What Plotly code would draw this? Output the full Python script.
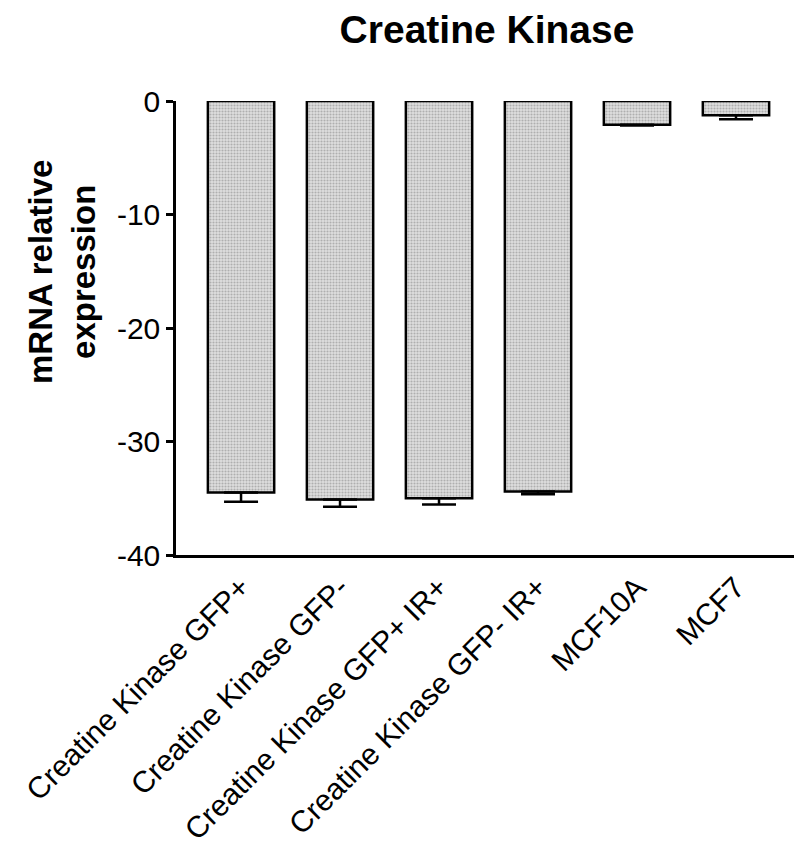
import plotly.graph_objects as go

# Creatine kinase mRNA relative expression per sample
categories = [
    "Creatine Kinase GFP+",
    "Creatine Kinase GFP-",
    "Creatine Kinase GFP+ IR+",
    "Creatine Kinase GFP- IR+",
    "MCF10A",
    "MCF7",
]
means = [-34.5, -35.1, -35.0, -34.4, -2.1, -1.25]
errors = [0.8, 0.65, 0.55, 0.25, 0.05, 0.35]

y_tick_vals = [0, -10, -20, -30, -40]
y_tick_text = ["0", "-10", "-20", "-30", "-40"]

FONT = "Liberation Sans, Arial, sans-serif"

fig = go.Figure()
fig.add_trace(go.Bar(
    x=list(range(len(categories))),
    y=means,
    marker=dict(
        color="#d0d0d0",
        line=dict(color="black", width=2.5),
        pattern=dict(shape=".", size=3, solidity=0.4,
                     fgcolor="#808080", bgcolor="#dedede"),
    ),
    error_y=dict(
        type="data", symmetric=False,
        array=[0] * len(errors), arrayminus=errors,
        color="black", thickness=2.5, width=17,
    ),
    width=0.67,
    showlegend=False,
))

fig.update_layout(
    width=794, height=848,
    margin=dict(l=176, r=0, t=101, b=293),
    paper_bgcolor="white", plot_bgcolor="white",
    font=dict(family=FONT, color="black"),
    title=dict(
        text="<b>Creatine Kinase</b>",
        font=dict(family=FONT, size=39, color="black"),
        x=487 / 794, xanchor="center", xref="container",
        y=1 - 29 / 848, yanchor="middle",
    ),
)

fig.update_xaxes(
    range=[-0.657, 5.586],
    tickvals=list(range(len(categories))),
    ticktext=categories,
    tickangle=-45,
    tickfont=dict(family=FONT, size=30, color="black"),
    showline=True, linecolor="black", linewidth=2.5,
    ticks="", showgrid=False, zeroline=False,
)
fig.update_yaxes(
    range=[-40, 0],
    tickvals=y_tick_vals,
    ticktext=y_tick_text,
    tickfont=dict(family=FONT, size=30, color="black"),
    ticks="outside", ticklen=7, tickwidth=2.5, tickcolor="black",
    showline=True, linecolor="black", linewidth=2.5,
    showgrid=False, zeroline=False,
)

fig.add_annotation(
    text="<b>mRNA relative<br>expression</b>",
    xref="paper", yref="paper",
    x=0, xshift=-114, y=(555 - 272) / 454,
    textangle=-90, showarrow=False,
    font=dict(family=FONT, size=33, color="black"),
    xanchor="center", yanchor="middle",
)

fig.write_html("out.html")
